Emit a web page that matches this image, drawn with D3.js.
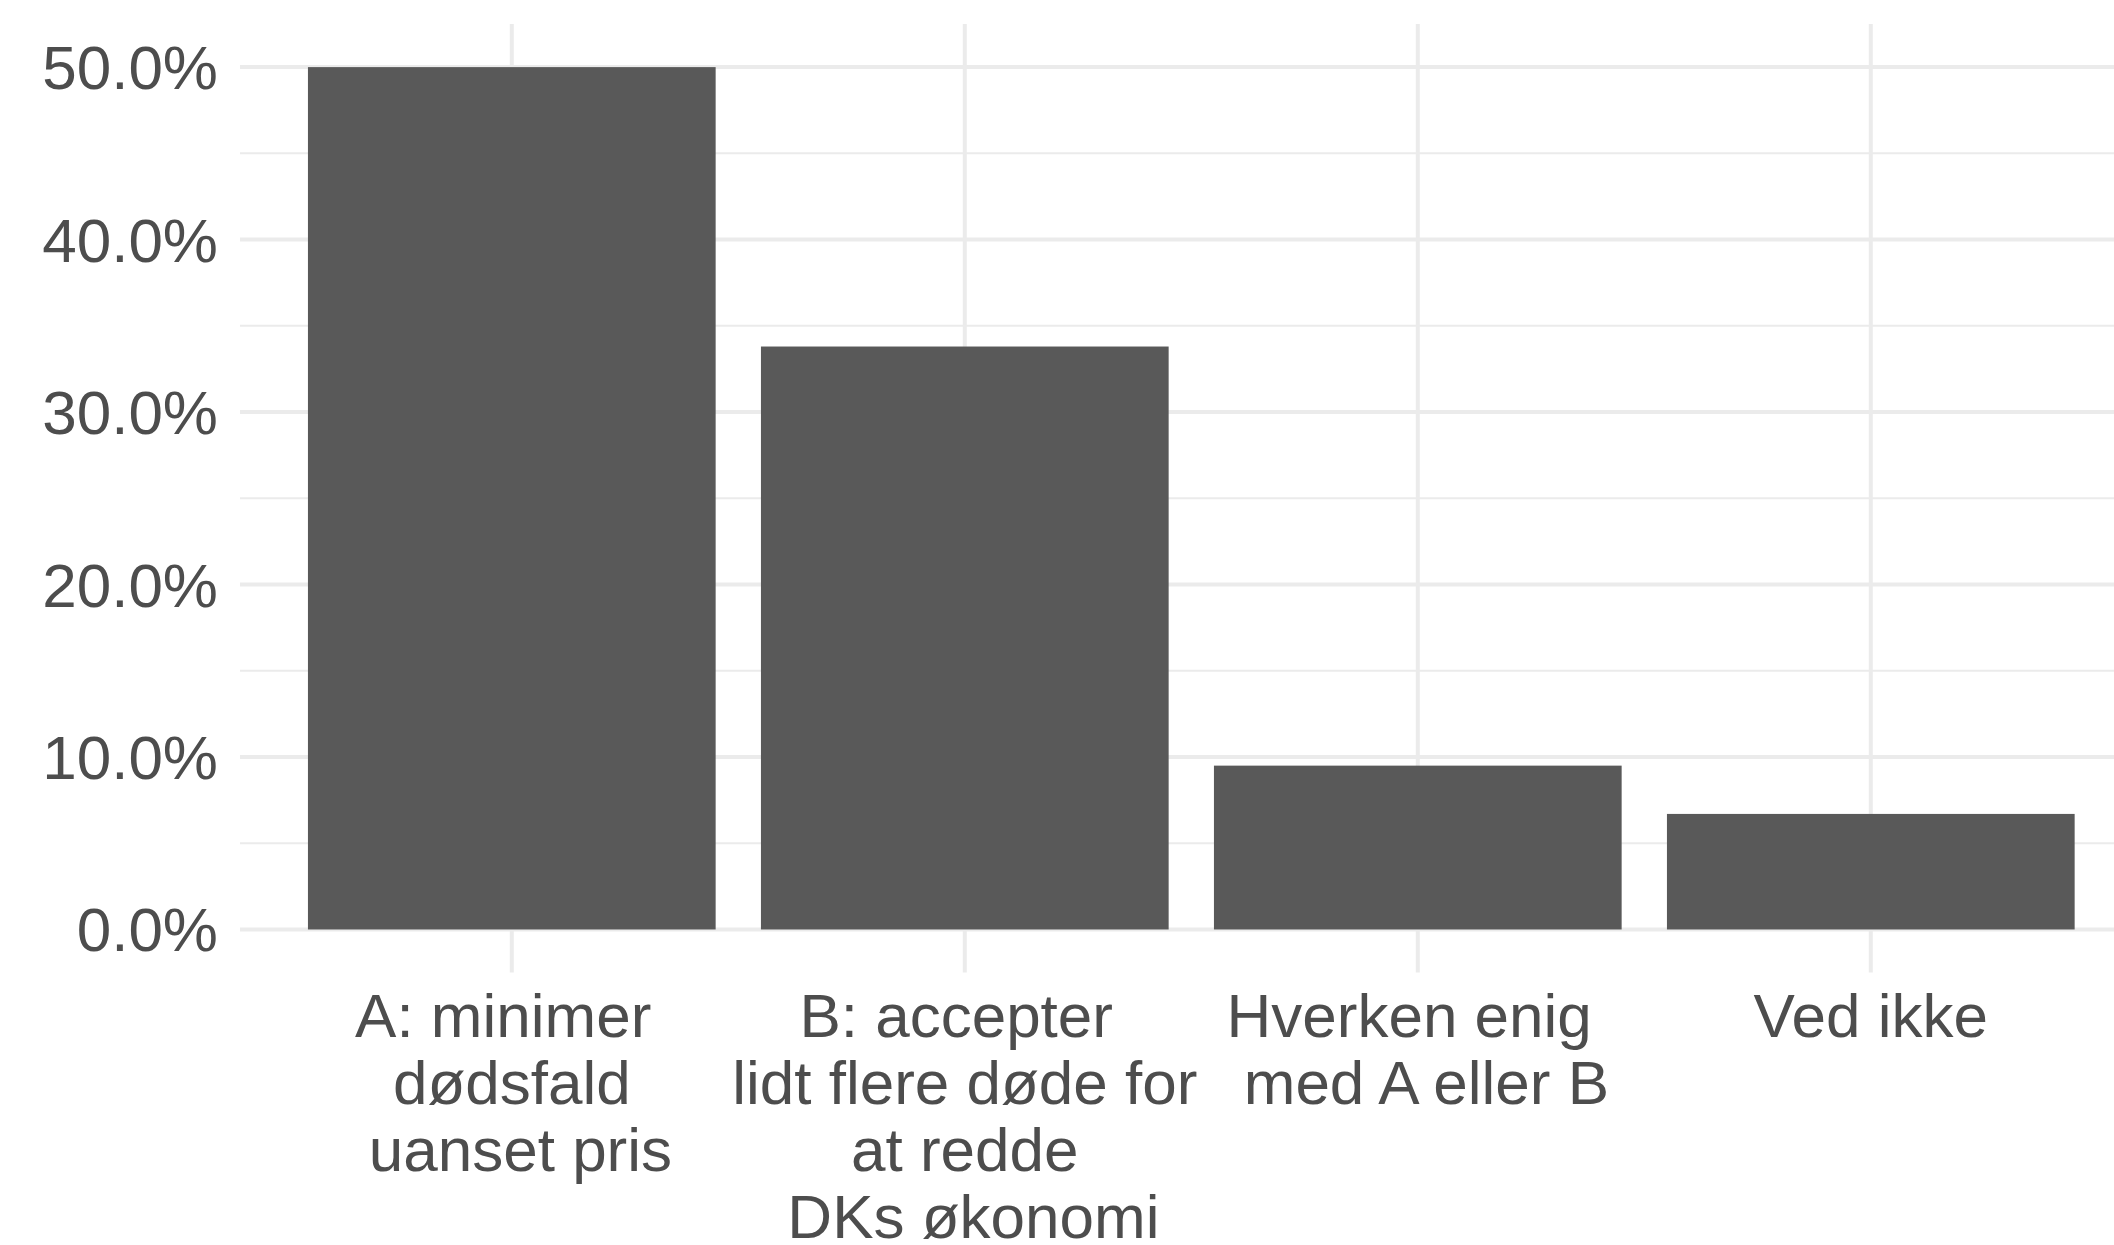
<!DOCTYPE html>
<html>
<head>
<meta charset="utf-8">
<script src="https://cdn.jsdelivr.net/npm/d3@7"></script>
<style>
  body { margin: 0; background: #fff; }
  svg { display: block; }
  text { white-space: pre; }
</style>
</head>
<body>
<script>
// data (labels keep the spaces around the line breaks)
const categories = ["A", "B", "C", "D"]
const labels = [
  ["A: minimer ", " dødsfald ", " uanset pris"],
  ["B: accepter ", " lidt flere døde for ", " at redde ", " DKs økonomi"],
  ["Hverken enig ", " med A eller B"],
  ["Ved ikke"]
]
const shares = [0.500, 0.338, 0.095, 0.067]
const majorTicks = [0, 0.1, 0.2, 0.3, 0.4, 0.5]
const minorTicks = [0.05, 0.15, 0.25, 0.35, 0.45]

const W = 2114, H = 1245
const panel = {left: 240, right: 2142.6, top: 24, bottom: 972.6}
const font = "'Liberation Sans', Arial, sans-serif"
const textCol = "#4D4D4D", gridCol = "#EBEBEB", barCol = "#595959"

const svg = d3.select("body").append("svg")
  .attr("width", W)
  .attr("height", H)

const x = d3.scaleBand()
  .domain(categories)
  .range([panel.left, panel.right])
  .paddingInner(0.1)
  .paddingOuter(0.15)

const y = d3.scaleLinear()
  .domain([-0.025, 0.525])
  .range([panel.bottom, panel.top])

// grid
const grid = svg.append("g")
grid.selectAll("line.minor")
  .data(minorTicks)
  .join("line")
  .attr("class", "minor")
  .attr("x1", panel.left).attr("x2", panel.right)
  .attr("y1", d => y(d)).attr("y2", d => y(d))
  .attr("stroke", gridCol).attr("stroke-width", 2)

grid.selectAll("line.major")
  .data(majorTicks)
  .join("line")
  .attr("class", "major")
  .attr("x1", panel.left).attr("x2", panel.right)
  .attr("y1", d => y(d)).attr("y2", d => y(d))
  .attr("stroke", gridCol).attr("stroke-width", 4)

grid.selectAll("line.vert")
  .data(categories)
  .join("line")
  .attr("class", "vert")
  .attr("x1", d => x(d) + x.bandwidth() / 2).attr("x2", d => x(d) + x.bandwidth() / 2)
  .attr("y1", panel.top).attr("y2", panel.bottom)
  .attr("stroke", gridCol).attr("stroke-width", 4)

// bars
svg.append("g").selectAll("rect")
  .data(categories)
  .join("rect")
  .attr("x", d => x(d))
  .attr("width", x.bandwidth())
  .attr("y", (d, i) => y(shares[i]))
  .attr("height", (d, i) => y(0) - y(shares[i]))
  .attr("fill", barCol)

// y axis labels
svg.append("g").selectAll("text")
  .data(majorTicks)
  .join("text")
  .attr("x", 218)
  .attr("y", d => y(d) + 22)
  .attr("text-anchor", "end")
  .attr("font-family", font)
  .attr("font-size", 62)
  .attr("fill", textCol)
  .text(d => d3.format(".1%")(d))

// x axis labels, one tspan per line
const xl = svg.append("g").selectAll("text")
  .data(categories)
  .join("text")
  .attr("text-anchor", "middle")
  .attr("font-family", font)
  .attr("font-size", 62)
  .attr("fill", textCol)

xl.each(function(d, i) {
  const cx = x(d) + x.bandwidth() / 2
  d3.select(this).selectAll("tspan")
    .data(labels[i])
    .join("tspan")
    .attr("x", cx)
    .attr("y", (t, j) => 1037 + j * 67)
    .text(t => t)
})
</script>
</body>
</html>
